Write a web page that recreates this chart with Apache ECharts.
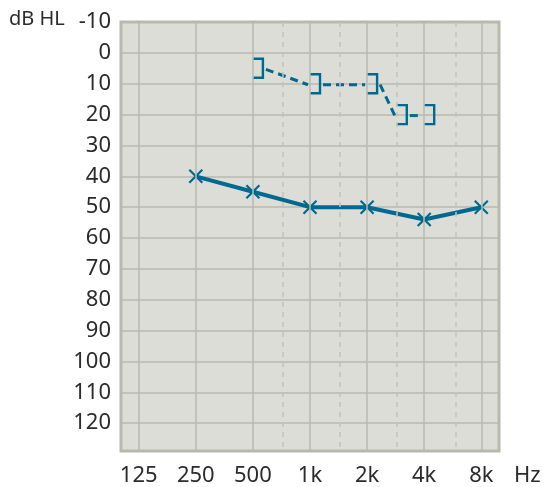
<!DOCTYPE html>
<html>
<head>
<meta charset="utf-8">
<script src="https://cdn.jsdelivr.net/npm/echarts@6/dist/echarts.min.js"></script>
<style>
  html, body { margin: 0; padding: 0; background: #fff; }
  #main { width: 544px; height: 487px; }
</style>
</head>
<body>
<div id="main"></div>
<script>
// octave positions: 0 = 125 Hz ... 6 = 8 kHz
var freqPos = [0, 1, 2, 3, 4, 5, 6]
var freqLabels = ['125', '250', '500', '1k', '2k', '4k', '8k']
var halfOctPos = [2.53, 3.52, 4.52, 5.55] // 750, 1.5k, 3k, 6k

// air conduction (X)
var acX = [1, 2, 3, 4, 5, 6]
var acDb = [40, 45, 50, 50, 54, 50]

// masked bone conduction (])
var bcX = [2, 3, 4, 4.52, 5]
var bcDb = [5, 10, 10, 20, 20]

var teal = '#00698f'
var gridColor = '#b9b9b0'
var textColor = '#2b2b2b'

var chart = echarts.init(document.getElementById('main'))

var vLines = []
freqPos.forEach(function (p) {
  vLines.push({ xAxis: p, lineStyle: { color: gridColor, width: 1.5, type: 'solid' } })
})
halfOctPos.forEach(function (p) {
  vLines.push({ xAxis: p, lineStyle: { color: '#c2c2bb', width: 1.5, type: [5, 5] } })
})

chart.setOption({
  animation: false,
  textStyle: { fontFamily: 'Noto Sans' },
  grid: {
    left: 121, right: 45, top: 22, bottom: 35,
    show: true,
    backgroundColor: '#dcddd6',
    borderColor: '#b8b9ae',
    borderWidth: 3
  },
  graphic: [
    { type: 'text', left: 9, top: 9, style: { text: 'dB HL', fontSize: 20, fontFamily: 'Noto Sans', fill: textColor } },
    { type: 'text', left: 514, top: 465, style: { text: 'Hz', fontSize: 22, fontFamily: 'Noto Sans', fill: textColor } }
  ],
  xAxis: {
    type: 'value',
    min: -0.31,
    max: 6.31,
    axisLine: { show: false },
    axisTick: { show: false },
    splitLine: { show: false },
    axisLabel: {
      customValues: freqPos,
      formatter: function (v) { return freqLabels[freqPos.indexOf(v)] },
      fontSize: 22,
      color: textColor,
      margin: 14
    }
  },
  yAxis: {
    type: 'value',
    inverse: true,
    min: -10,
    max: 129,
    interval: 10,
    axisLine: { show: false },
    axisTick: { show: false },
    splitLine: { lineStyle: { color: gridColor, width: 1.5 } },
    axisLabel: {
      formatter: function (v) { return v > 120 ? '' : String(v) },
      fontSize: 22,
      color: textColor,
      margin: 10
    }
  },
  series: [
    {
      type: 'line',
      data: [],
      silent: true,
      markLine: {
        silent: true,
        symbol: 'none',
        label: { show: false },
        data: vLines
      },
      z: 1
    },
    {
      type: 'line',
      data: acX.map(function (x, i) { return [x, acDb[i]] }),
      lineStyle: { color: teal, width: 4 },
      symbol: 'path://M0,0L10,10M10,0L0,10',
      symbolSize: 13,
      itemStyle: { color: teal, borderColor: teal, borderWidth: 2.2 },
      z: 3
    },
    {
      type: 'custom',
      data: bcX.map(function (x, i) { return [x, bcDb[i]] }),
      renderItem: function (params, api) {
        var i = params.dataIndex
        var p = api.coord([api.value(0), api.value(1)])
        var w = 10, h = 9.5
        var children = [{
          type: 'polyline',
          shape: { points: [[p[0], p[1] - h], [p[0] + w, p[1] - h], [p[0] + w, p[1] + h], [p[0], p[1] + h]] },
          style: { stroke: teal, lineWidth: 2.4, fill: 'none' }
        }]
        if (i < bcX.length - 1) {
          var q = api.coord([bcX[i + 1], bcDb[i + 1]])
          children.push({
            type: 'line',
            shape: { x1: p[0] + w + 3, y1: p[1] + 1, x2: q[0] - 2, y2: q[1] + 1 },
            style: { stroke: teal, lineWidth: 3, lineDash: [8, 5] }
          })
        }
        return { type: 'group', children: children }
      },
      z: 3
    }
  ]
})
</script>
</body>
</html>
